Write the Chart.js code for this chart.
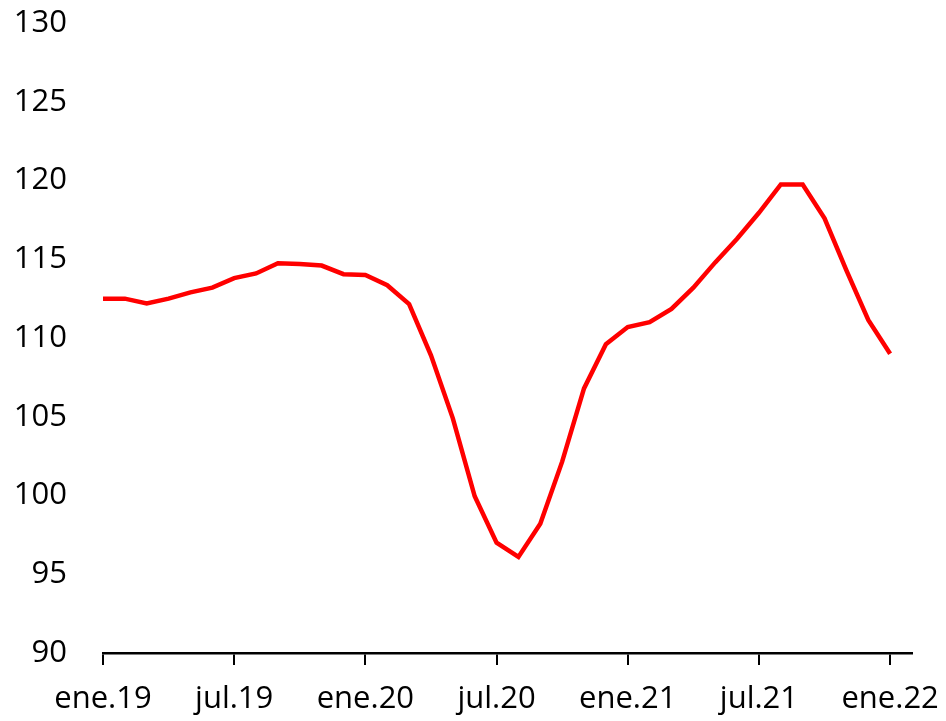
<!DOCTYPE html>
<html>
<head>
<meta charset="utf-8">
<script src="https://cdn.jsdelivr.net/npm/chart.js@4.4.0/dist/chart.umd.min.js"></script>
<style>
    html, body { margin: 0; padding: 0; background: #ffffff; }
    canvas { display: block; }
</style>
</head>
<body>
<canvas id="indexChart" width="946" height="721"></canvas>
<script>
// Monthly index, ene.19 .. ene.22 (last category is an empty slot for feb.22)
const months = [
    'ene.19', 'feb.19', 'mar.19', 'abr.19', 'may.19', 'jun.19',
    'jul.19', 'ago.19', 'sep.19', 'oct.19', 'nov.19', 'dic.19',
    'ene.20', 'feb.20', 'mar.20', 'abr.20', 'may.20', 'jun.20',
    'jul.20', 'ago.20', 'sep.20', 'oct.20', 'nov.20', 'dic.20',
    'ene.21', 'feb.21', 'mar.21', 'abr.21', 'may.21', 'jun.21',
    'jul.21', 'ago.21', 'sep.21', 'oct.21', 'nov.21', 'dic.21',
    'ene.22', 'feb.22'
];

const indexValues = [
    112.5, 112.5, 112.2, 112.5, 112.9, 113.2,
    113.8, 114.1, 114.75, 114.7, 114.6, 114.05,
    114.0, 113.35, 112.15, 108.9, 104.9, 99.95,
    97.0, 96.1, 98.2, 102.15, 106.8, 109.6,
    110.7, 111.0, 111.85, 113.2, 114.8, 116.3,
    117.95, 119.75, 119.75, 117.6, 114.3, 111.15,
    109.0, null
];

const yMin = 90;
const yMax = 130;
const yStep = 5;

const axisFont = { family: "'Open Sans', sans-serif", size: 31 };

// keep the axis label overflow from pushing the plot area around
function noScalePadding(scale) {
    scale.paddingTop = 0;
    scale.paddingBottom = 0;
    scale.paddingLeft = 0;
    scale.paddingRight = 0;
}

new Chart(document.getElementById('indexChart'), {
    type: 'line',
    data: {
        labels: months,
        datasets: [
            {
                data: indexValues,
                borderColor: '#ff0000',
                borderWidth: 4.5,
                pointRadius: 0,
                tension: 0,
                fill: false
            }
        ]
    },
    options: {
        responsive: false,
        animation: false,
        devicePixelRatio: 1,
        layout: {
            padding: { left: 0, right: 34, top: 23, bottom: 0 }
        },
        plugins: {
            legend: { display: false },
            tooltip: { enabled: false }
        },
        scales: {
            x: {
                offset: false,
                afterBuildTicks: scale => {
                    scale.ticks = scale.ticks.filter(t => t.value % 6 === 0);
                },
                afterFit: scale => {
                    scale.height = 68;
                    noScalePadding(scale);
                },
                ticks: {
                    autoSkip: false,
                    maxRotation: 0,
                    padding: 16,
                    color: '#000000',
                    font: axisFont,
                    callback: function (value) {
                        return this.getLabelForValue(value);
                    }
                },
                grid: {
                    display: true,
                    drawOnChartArea: false,
                    drawTicks: true,
                    tickLength: 12,
                    color: '#000000',
                    lineWidth: 2
                },
                border: {
                    display: true,
                    color: '#000000',
                    width: 2.5
                }
            },
            y: {
                min: yMin,
                max: yMax,
                afterFit: scale => {
                    scale.width = 103;
                    noScalePadding(scale);
                },
                ticks: {
                    stepSize: yStep,
                    padding: 36,
                    color: '#000000',
                    font: axisFont
                },
                grid: {
                    display: false,
                    drawTicks: false
                },
                border: { display: false }
            }
        }
    }
});
</script>
</body>
</html>
